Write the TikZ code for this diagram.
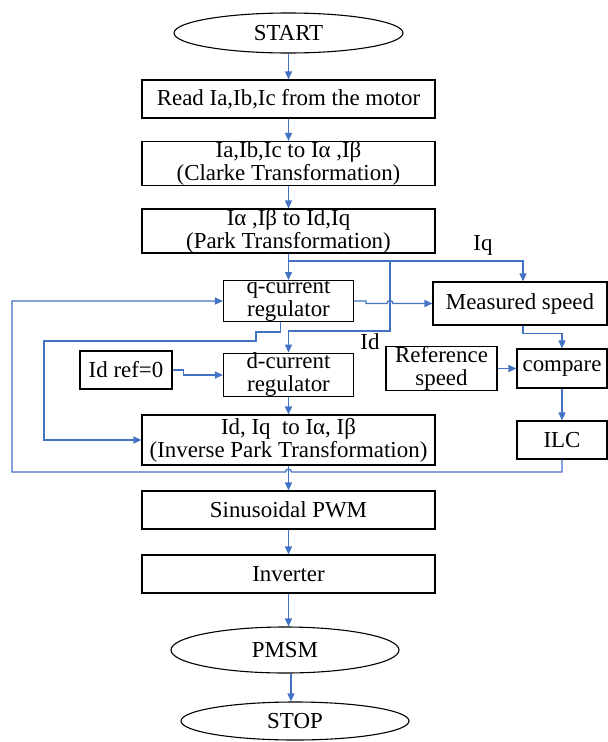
\documentclass[tikz,border=0pt]{standalone}
\usepackage{fontspec}
\setmainfont{Liberation Serif}
\usetikzlibrary{shapes.geometric,arrows.meta}
\definecolor{flowblue}{RGB}{68,114,196}
\begin{document}
\begin{tikzpicture}[x=1pt,y=-1pt,
  font=\fontsize{22.9pt}{23pt}\selectfont,
  box/.style={draw=black,line width=1.1pt,rectangle,inner sep=0pt,align=center},
  oval/.style={draw=black,line width=1.1pt,ellipse,inner sep=0pt,align=center},
  flow/.style={draw=flowblue,line width=1.3pt},
  arr/.style={flow,-{Triangle[length=8pt,width=7pt]}}]
\path[use as bounding box] (0,0) rectangle (608,742);
% nodes
\node[oval,minimum width=229pt,minimum height=40pt] (start) at (288.5,33) {START};
\node[box,minimum width=293pt,minimum height=38pt] (read) at (288.5,99) {Read Ia,Ib,Ic from the motor};
\node[box,minimum width=293pt,minimum height=39pt] (clarke) at (288.5,163.5) {Ia,Ib,Ic to Iα ,Iβ\\(Clarke Transformation)};
\node[box,minimum width=293pt,minimum height=44pt] (park) at (288.5,231) {Iα ,Iβ to Id,Iq\\(Park Transformation)};
\node[box,minimum width=130pt,minimum height=38pt] (qcur) at (288.5,301) {q-current\\regulator};
\node[box,minimum width=130pt,minimum height=38pt] (dcur) at (288.5,375) {d-current\\regulator};
\node[box,minimum width=92pt,minimum height=38pt] (idref) at (126,370) {Id ref=0};
\node[box,minimum width=293pt,minimum height=50pt] (ipark) at (288.5,440) {Id, Iq\ \ to Iα, Iβ\\(Inverse Park Transformation)};
\node[box,minimum width=174pt,minimum height=43pt] (meas) at (520,303.5) {Measured speed};
\node[box,minimum width=111pt,minimum height=39pt] (refsp) at (441.5,368.5) {Reference\\speed};
\node[box,minimum width=90pt,minimum height=39pt] (comp) at (562,368.5) {compare};
\node[box,minimum width=90pt,minimum height=38pt] (ilc) at (562,440) {ILC};
\node[box,minimum width=293pt,minimum height=38pt] (pwm) at (288.5,510) {Sinusoidal PWM};
\node[box,minimum width=293pt,minimum height=38pt] (inv) at (288.5,574) {Inverter};
\node[oval,minimum width=228pt,minimum height=46pt] (pmsm) at (285,650) {PMSM};
\node[oval,minimum width=228pt,minimum height=38pt] (stop) at (295,721) {STOP};
\node (lq) at (483,245) {Iq};
\node (ld) at (370,342) {Id};
% junctions
\coordinate (jq) at (288.5,261);
\coordinate (jd) at (390,261);
% main flow
\draw[arr] (start.south) -- (read.north);
\draw[arr] (read.south) -- (clarke.north);
\draw[arr] (clarke.south) -- (park.north);
\draw[arr] (park.south) -- (qcur.north);
\draw[arr] (jq) -| ([xshift=3pt]meas.north);
\draw[arr] (jd) -- (390,331) -| (dcur.north);
\draw[arr] (qcur.east) -- ++(12,0) |- (387,303.5) arc[start angle=180,end angle=0,radius=3pt] -- (meas.west);
\draw[arr] ([xshift=-8pt]qcur.south) |- (256,332) |- (44,341) |- (ipark.west);
\draw[arr] (idref.east) -- ++(11,0) |- (dcur.west);
\draw[arr] (dcur.south) -- (ipark.north);
\draw[arr] (ipark.south) -- (pwm.north);
\draw[arr] ([xshift=3pt]meas.south) -- ++(0,8) -| (comp.north);
\draw[arr] (refsp.east) -- (comp.west);
\draw[arr] (comp.south) -- (ilc.north);
\draw[arr] (ilc.south) |- (291.5,472) arc[start angle=0,end angle=180,radius=3pt] -- (12,472) |- (qcur.west);
\draw[arr] (pwm.south) -- (inv.north);
\draw[arr] (inv.south) -- (inv.south |- pmsm.north);
\draw[arr] ([xshift=6pt]pmsm.south) -- ([xshift=6pt]pmsm.south |- stop.north);
\end{tikzpicture}
\end{document}
